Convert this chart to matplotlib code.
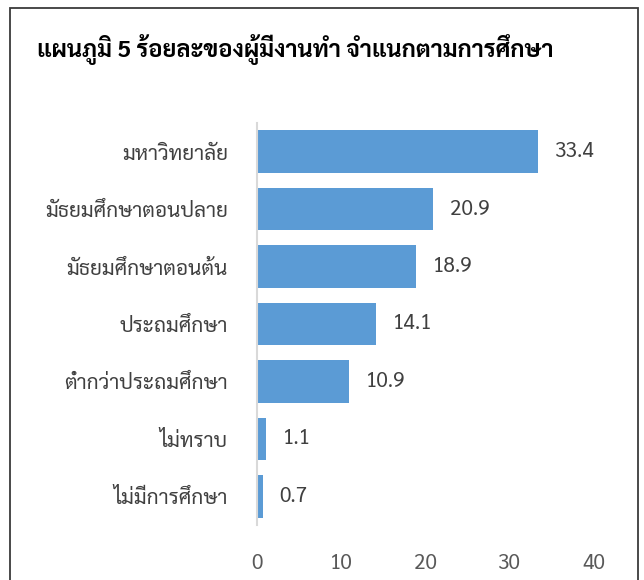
import matplotlib
matplotlib.use("Agg")
import matplotlib.pyplot as plt
from matplotlib.patches import Rectangle

plt.rcParams['font.family'] = ['Sarabun', 'DejaVu Sans']

# data
categories = ["มหาวิทยาลัย", "มัธยมศึกษาตอนปลาย", "มัธยมศึกษาตอนต้น", "ประถมศึกษา",
              "ต่ำกว่าประถมศึกษา", "ไม่ทราบ", "ไม่มีการศึกษา"]
values = [33.4, 20.9, 18.9, 14.1, 10.9, 1.1, 0.7]
xticks = [0, 10, 20, 30, 40]
title = "แผนภูมิ 5 ร้อยละของผู้มีงานทำ จำแนกตามการศึกษา"

fig = plt.figure(figsize=(6.44, 5.8), dpi=100)
W, H = 644, 580

# outer frame (cut off at the bottom like the screenshot)
fig.patches.append(Rectangle((10 / W, -0.05), 628 / W, 1.05 - 8 / H, transform=fig.transFigure,
                             fill=False, edgecolor="#3a3a3a", linewidth=1.3))

fig.text(37 / W, 1 - 50 / H, title, fontsize=17, fontweight="bold", va="center", ha="left",
         color="black")

ax = fig.add_axes([257 / W, 1 - 525 / H, 337 / W, 402 / H])
ypos = list(range(len(categories)))
ax.barh(ypos, values, height=0.74, color="#5B9BD5")
for y, v in zip(ypos, values):
    ax.text(v + 2.0, y, "%.1f" % v, va="center", ha="left", fontsize=15, color="#404040")

ax.set_xlim(0, 40)
ax.set_ylim(len(categories) - 0.5, -0.5)
ax.set_xticks(xticks)
ax.set_xticklabels([str(t) for t in xticks], fontsize=15, color="#595959")
ax.set_yticks(ypos)
ax.set_yticklabels(categories, fontsize=15, color="#404040")
ax.tick_params(axis="x", length=0, pad=20)
ax.tick_params(axis="y", length=0, pad=21)
for s in ["top", "right", "bottom"]:
    ax.spines[s].set_visible(False)
ax.spines["left"].set_color("#D9D9D9")
ax.spines["left"].set_linewidth(1.5)

fig.savefig("out.png", dpi=100)
